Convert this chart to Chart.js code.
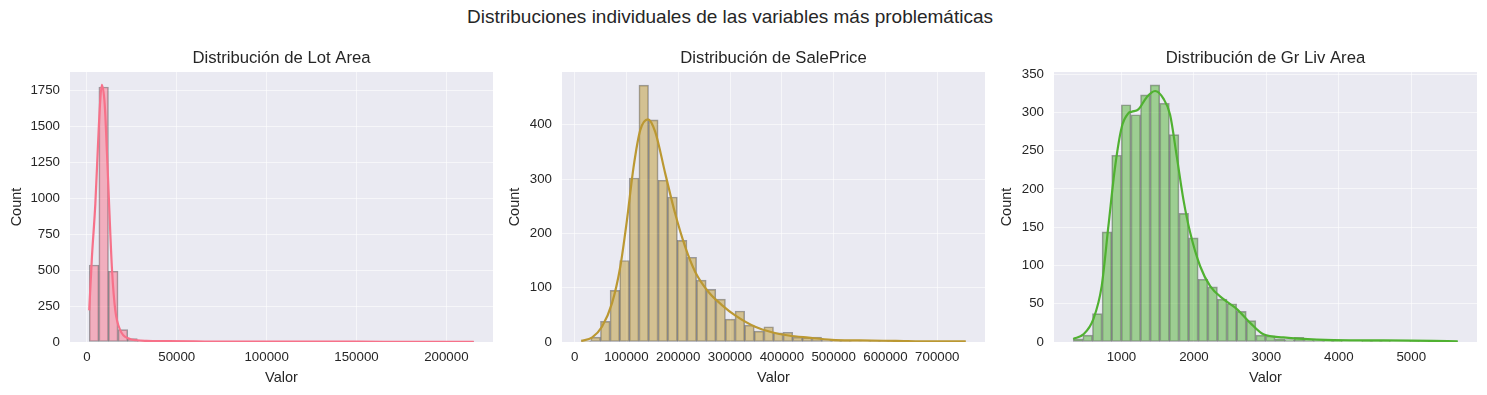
<!DOCTYPE html>
<html lang="es">
<head>
<meta charset="utf-8">
<title>Distribuciones individuales</title>
<script src="https://cdn.jsdelivr.net/npm/chart.js@4.4.1/dist/chart.umd.min.js"></script>
<style>
  html, body { margin: 0; padding: 0; background: #fff; overflow: hidden; }
  #lienzo { position: relative; width: 1487px; height: 395px; }
  #titulo {
    position: absolute; left: 0; top: 5px; width: 1460px; text-align: center;
    font-family: "Liberation Sans", Arial, sans-serif; font-size: 19px; line-height: 24px; color: #262626;
  }
  .panel { position: absolute; top: 36px; height: 359px; }
</style>
</head>
<body>
<div id="lienzo">
  <div id="titulo">Distribuciones individuales de las variables más problemáticas</div>
  <div class="panel" style="left:0px;width:493px"><canvas id="gLotArea" width="493" height="359"></canvas></div>
  <div class="panel" style="left:498px;width:487px"><canvas id="gSalePrice" width="487" height="359"></canvas></div>
  <div class="panel" style="left:990px;width:487px"><canvas id="gGrLivArea" width="487" height="359"></canvas></div>
</div>
<script>
const lotAreaRange = [1300, 215245];
const lotAreaCounts = [535, 1772, 492, 86, 23, 8, 4, 3, 3, 4, 2, 1, 1, 0, 0, 0, 0, 0, 0, 0,
                       0, 1, 0, 0, 0, 0, 0, 0, 0, 1, 1, 0, 0, 0, 0, 0, 0, 0, 0, 1];
const lotAreaKde = [[1300, 220], [2800, 590], [4700, 960], [6200, 1376], [7300, 1653], [8300, 1787],
                    [9900, 1653], [11200, 1306], [12500, 913], [14000, 497], [15800, 220], [18600, 81],
                    [23300, 24], [28000, 12], [33000, 8], [45000, 6], [60000, 4], [80000, 2],
                    [110000, 2], [150000, 2], [180000, 1], [215245, 1]];
const lotAreaXTicks = [0, 50000, 100000, 150000, 200000];
const lotAreaYTicks = [0, 250, 500, 750, 1000, 1250, 1500, 1750];

const salePriceRange = [12789, 755000];
const salePriceCounts = [2, 9, 38, 95, 150, 302, 473, 409, 298, 267, 187, 156, 114, 97, 79, 42, 57, 31, 20, 28,
                         17, 18, 9, 8, 9, 3, 2, 2, 1, 1, 2, 2, 1, 1, 0, 0, 0, 0, 0, 1];
const salePriceKde = [[12789, 2], [33500, 8], [52800, 28], [72100, 71], [88100, 138], [101000, 224],
                      [113800, 322], [126700, 390], [141500, 410], [155600, 387], [175000, 310],
                      [194200, 236], [213500, 175], [232800, 129], [258500, 92], [284300, 68],
                      [309900, 49], [348500, 28], [380600, 18], [412800, 12], [451300, 8],
                      [496400, 4], [550000, 3], [620000, 2], [690000, 1], [755000, 1]];
const salePriceXTicks = [0, 100000, 200000, 300000, 400000, 500000, 600000, 700000];
const salePriceYTicks = [0, 100, 200, 300, 400];

const grLivAreaRange = [334, 5642];
const grLivAreaCounts = [4, 9, 37, 144, 244, 310, 297, 323, 336, 312, 271, 168, 136, 82, 72, 56, 50, 40, 28, 9,
                         8, 4, 3, 6, 3, 2, 1, 1, 0, 0, 1, 1, 1, 0, 0, 1, 0, 0, 0, 1];
const grLivAreaKde = [[334, 4], [474, 10], [612, 30], [727, 73], [819, 151], [912, 229], [1004, 281],
                      [1096, 299], [1142, 301], [1233, 304], [1349, 320], [1464, 328], [1579, 318],
                      [1671, 297], [1764, 242], [1855, 186], [1948, 143], [2086, 99], [2224, 73],
                      [2408, 56], [2593, 43], [2776, 25], [2960, 10], [3236, 6], [3697, 3],
                      [4157, 2], [4617, 2], [5642, 1]];
const grLivAreaXTicks = [1000, 2000, 3000, 4000, 5000];
const grLivAreaYTicks = [0, 50, 100, 150, 200, 250, 300, 350];

const fuente = '"Liberation Sans", Arial, sans-serif';
const colorTexto = '#262626';

// Fondo gris azulado del área del gráfico (estilo darkgrid)
const fondoArea = {
  id: 'fondoArea',
  beforeDraw(chart) {
    const { ctx, chartArea: a } = chart;
    ctx.save();
    ctx.fillStyle = '#eaeaf2';
    ctx.fillRect(a.left, a.top, a.width, a.height);
    ctx.restore();
  }
};

function crearPanel(id, titulo, rango, conteos, kde, xTicks, yTicks, yMax, color, relleno, anchoEjeY) {
  // Centros de los bins a partir del rango de los datos
  const anchoBin = (rango[1] - rango[0]) / conteos.length;
  const barras = conteos.map((c, i) => ({ x: rango[0] + (i + 0.5) * anchoBin, y: c }));
  const margen = (rango[1] - rango[0]) * 0.05;

  new Chart(document.getElementById(id), {
    type: 'bar',
    data: {
      datasets: [
        {
          type: 'line',
          data: kde.map(p => ({ x: p[0], y: p[1] })),
          borderColor: color,
          borderWidth: 2.2,
          pointRadius: 0,
          cubicInterpolationMode: 'monotone',
          order: 0
        },
        {
          data: barras,
          backgroundColor: relleno,
          borderColor: 'rgba(0,0,0,0.35)',
          borderWidth: 1,
          borderSkipped: false,
          barPercentage: 1,
          categoryPercentage: 1,
          order: 1
        }
      ]
    },
    options: {
      responsive: false,
      animation: false,
      layout: { padding: 0 },
      plugins: {
        legend: { display: false },
        tooltip: { enabled: false },
        title: {
          display: true,
          text: titulo,
          fullSize: false,
          color: colorTexto,
          font: { family: fuente, size: 16.7, weight: 'normal', lineHeight: 1.2 },
          padding: { top: 12, bottom: 4 }
        }
      },
      scales: {
        x: {
          type: 'linear',
          offset: false,
          min: rango[0] - margen,
          max: rango[1] + margen,
          afterBuildTicks: s => { s.ticks = xTicks.map(v => ({ value: v })); },
          afterFit: s => { s.height = 53; },
          ticks: {
            color: colorTexto,
            font: { family: fuente, size: 13.3 },
            padding: 7,
            maxRotation: 0,
            callback: v => String(v)
          },
          grid: { color: 'rgba(255,255,255,0.55)', offset: false, drawTicks: false },
          border: { display: false },
          title: {
            display: true, text: 'Valor', color: colorTexto,
            font: { family: fuente, size: 14.5 }, padding: { top: 0, bottom: 8 }
          }
        },
        y: {
          min: 0,
          max: yMax,
          afterBuildTicks: s => { s.ticks = yTicks.map(v => ({ value: v })); },
          afterFit: s => { s.width = anchoEjeY; },
          ticks: {
            color: colorTexto,
            font: { family: fuente, size: 13.3 },
            padding: 10,
            callback: v => String(v)
          },
          grid: { color: 'rgba(255,255,255,0.55)', drawTicks: false },
          border: { display: false },
          title: {
            display: true, text: 'Count', color: colorTexto,
            font: { family: fuente, size: 14.5 }, padding: { top: 8, bottom: 0 }
          }
        }
      }
    },
    plugins: [fondoArea]
  });
}

crearPanel('gLotArea', 'Distribución de Lot Area', lotAreaRange, lotAreaCounts, lotAreaKde,
  lotAreaXTicks, lotAreaYTicks, 1876, '#f77189', 'rgba(247,113,137,0.5)', 70);
crearPanel('gSalePrice', 'Distribución de SalePrice', salePriceRange, salePriceCounts, salePriceKde,
  salePriceXTicks, salePriceYTicks, 497, '#bb9832', 'rgba(187,152,50,0.5)', 64);
crearPanel('gGrLivArea', 'Distribución de Gr Liv Area', grLivAreaRange, grLivAreaCounts, grLivAreaKde,
  grLivAreaXTicks, grLivAreaYTicks, 352.8, '#50b131', 'rgba(80,177,49,0.5)', 64);
</script>
</body>
</html>
